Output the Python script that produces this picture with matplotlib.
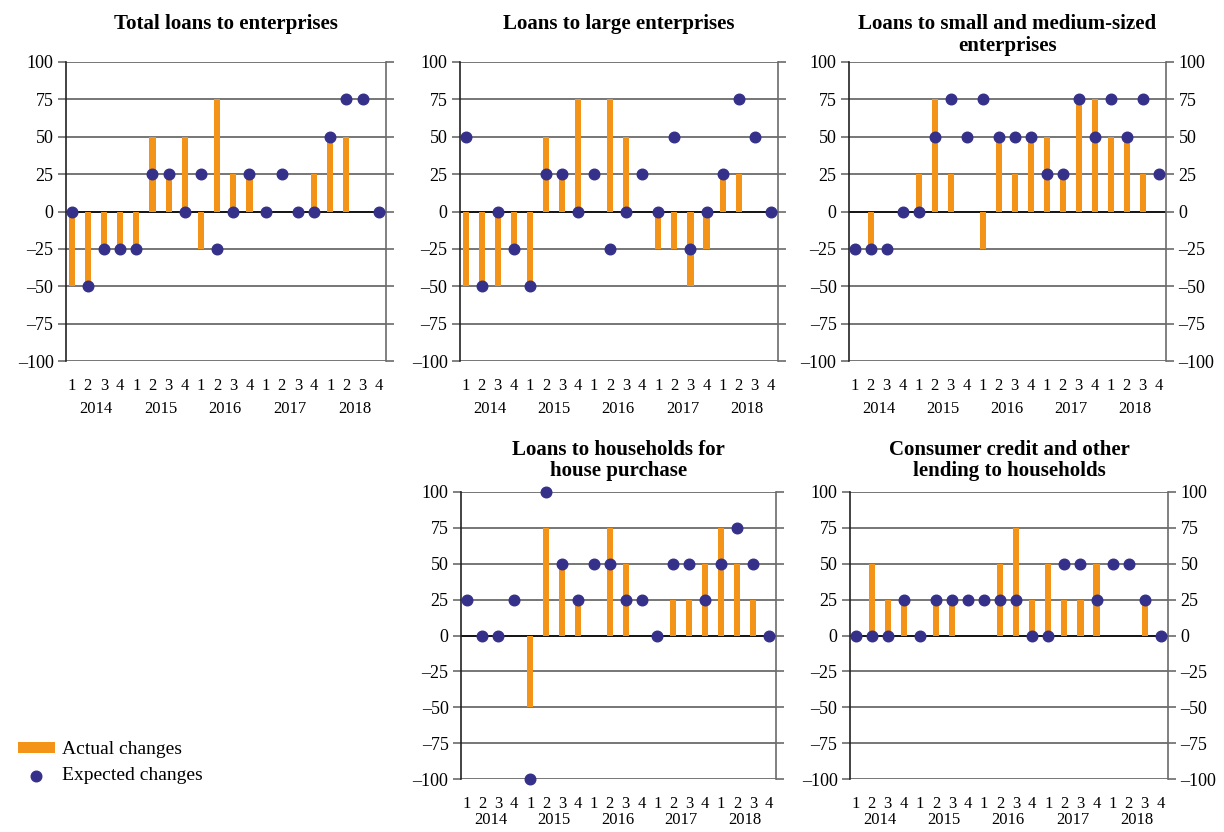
import numpy as np
import matplotlib
matplotlib.use("Agg")
import matplotlib.pyplot as plt

plt.rcParams["font.family"] = ["Liberation Serif", "DejaVu Serif"]

# =========================
# Data (net percentages), 2014Q1 - 2018Q4
# =========================
quarters = ["1", "2", "3", "4"] * 5
years = ["2014", "2015", "2016", "2017", "2018"]
nan = np.nan

total_actual = [-50, -50, -25, -25, -25, 50, 25, 50, -25, 75, 25, 25, 0, 0, 0, 25, 50, 50, 0, nan]
total_expected = [0, -50, -25, -25, -25, 25, 25, 0, 25, -25, 0, 25, 0, 25, 0, 0, 50, 75, 75, 0]

large_actual = [-50, -50, -50, -25, -50, 50, 25, 75, 0, 75, 50, 0, -25, -25, -50, -25, 25, 25, 0, nan]
large_expected = [50, -50, 0, -25, -50, 25, 25, 0, 25, -25, 0, 25, 0, 50, -25, 0, 25, 75, 50, 0]

sme_actual = [0, -25, 0, 0, 25, 75, 25, 0, -25, 50, 25, 50, 50, 25, 75, 75, 50, 50, 25, nan]
sme_expected = [-25, -25, -25, 0, 0, 50, 75, 50, 75, 50, 50, 50, 25, 25, 75, 50, 75, 50, 75, 25]

house_actual = [0, 0, 0, 0, -50, 75, 50, 25, 0, 75, 50, 0, 0, 25, 25, 50, 75, 50, 25, nan]
house_expected = [25, 0, 0, 25, -100, 100, 50, 25, 50, 50, 25, 25, 0, 50, 50, 25, 50, 75, 50, 0]

consumer_actual = [0, 50, 25, 25, 0, 25, 25, 0, 0, 50, 75, 25, 50, 25, 25, 50, 0, 0, 25, nan]
consumer_expected = [0, 0, 0, 25, 0, 25, 25, 25, 25, 25, 25, 0, 0, 50, 50, 25, 50, 50, 25, 0]

ORANGE = "#F39418"
NAVY = "#35318A"
GRID = "#6b6b6b"

W, H = 1224, 832


def px_axes(fig, x0, x1, y0, y1):
    # pixel box -> figure fraction
    return fig.add_axes([x0 / W, 1 - y1 / H, (x1 - x0) / W, (y1 - y0) / H])


def plot_panel(ax, actual, expected, title, title_gap=48, year_gap=48,
               left_labels=True, right_labels=False):
    x = np.arange(len(quarters))
    ax.bar(x, actual, width=0.38, color=ORANGE, zorder=3, label="Actual changes")
    ax.scatter(x, expected, s=58, color=NAVY, zorder=4, label="Expected changes",
               clip_on=False)

    ax.set_xlim(-0.35, 19.45)
    ax.set_ylim(-100, 100)
    yt = np.arange(-100, 101, 25)
    ax.set_yticks(yt)
    ax.set_yticklabels([str(v).replace("-", "\u2013") for v in yt])
    for v in yt:
        if v == 0:
            ax.axhline(v, color="black", lw=1.3, zorder=2)
        else:
            ax.axhline(v, color=GRID, lw=1.3, zorder=1)

    ax.tick_params(axis="y", which="both", direction="out", length=6, width=1.2,
                   color=GRID, labelsize=13, left=True, right=True,
                   labelleft=left_labels, labelright=right_labels, pad=3)
    ax.set_xticks(x)
    ax.set_xticklabels(quarters, fontsize=12)
    ax.tick_params(axis="x", length=0, pad=12)

    for side in ("top", "bottom"):
        ax.spines[side].set_visible(False)
    ax.spines["left"].set_color("#222222")
    ax.spines["right"].set_color(GRID)
    ax.spines["left"].set_linewidth(1.2)
    ax.spines["right"].set_linewidth(1.2)

    for i, yr in enumerate(years):
        ax.annotate(yr, xy=(4 * i + 1.5, 0), xycoords=("data", "axes fraction"),
                    xytext=(0, -year_gap), textcoords="offset pixels",
                    ha="center", va="center", fontsize=12)

    ax.annotate(title, xy=(0.5, 1), xycoords="axes fraction",
                xytext=(0, title_gap), textcoords="offset pixels",
                ha="center", va="top", fontsize=15, fontweight="bold",
                linespacing=1.1)


def main():
    fig = plt.figure(figsize=(W / 100, H / 100), dpi=100)

    ax1 = px_axes(fig, 66, 386, 62, 361)
    ax2 = px_axes(fig, 460, 778, 62, 361)
    ax3 = px_axes(fig, 849, 1166, 62, 361)
    ax4 = px_axes(fig, 461, 776, 492, 779)
    ax5 = px_axes(fig, 850, 1168, 492, 779)

    plot_panel(ax1, total_actual, total_expected, "Total loans to enterprises")
    plot_panel(ax2, large_actual, large_expected, "Loans to large enterprises")
    plot_panel(ax3, sme_actual, sme_expected,
               "Loans to small and medium-sized\nenterprises", right_labels=True)
    plot_panel(ax4, house_actual, house_expected,
               "Loans to households for\nhouse purchase", title_gap=52, year_gap=41)
    plot_panel(ax5, consumer_actual, consumer_expected,
               "Consumer credit and other\nlending to households", title_gap=52,
               year_gap=41, right_labels=True)

    handles, labels = ax1.get_legend_handles_labels()
    order = [labels.index("Actual changes"), labels.index("Expected changes")]
    fig.legend([handles[i] for i in order], [labels[i] for i in order],
               loc="lower left", bbox_to_anchor=(10 / W, 1 - 792 / H),
               frameon=False, fontsize=14, handlelength=1.9, handleheight=0.45,
               handletextpad=0.35, labelspacing=0.45, borderaxespad=0)

    fig.savefig("out.png", dpi=100)


if __name__ == "__main__":
    main()
